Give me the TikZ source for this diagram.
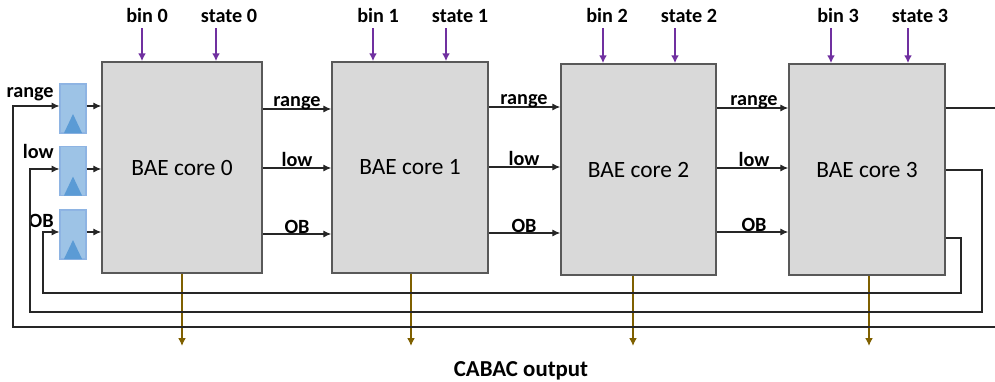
\documentclass[tikz,border=0pt]{standalone}
\usepackage{fontspec}
\setmainfont{Carlito}
\usetikzlibrary{arrows.meta}
\definecolor{corefill}{HTML}{D9D9D9}
\definecolor{coreline}{HTML}{595959}
\definecolor{regfill}{HTML}{9DC3E6}
\definecolor{regline}{HTML}{8EB4E3}
\definecolor{regtri}{HTML}{5B9BD5}
\definecolor{ctlcol}{HTML}{7030A0}
\definecolor{outcol}{HTML}{7F6000}
\begin{document}
\begin{tikzpicture}[x=0.02cm,y=-0.02cm,
        core/.style={draw=coreline,fill=corefill,line width=0.9pt,minimum height=211*0.02cm,inner sep=0pt,font=\fontsize{13.3}{16}\selectfont},
        reg/.style={draw=regline,fill=regfill,line width=0.6pt,minimum width=26*0.02cm,minimum height=49*0.02cm,inner sep=0pt},
        lbl/.style={font=\fontsize{11.5}{14}\selectfont\bfseries,inner sep=0pt},
        sig/.style={line width=0.6pt,draw=black!85,-{Latex[length=4.5pt,width=4pt]}},
        ctl/.style={line width=1.1pt,draw=ctlcol,-{Latex[length=4.5pt,width=4.5pt]}},
        outarr/.style={line width=1.1pt,draw=outcol,-{Latex[length=4.5pt,width=4.5pt]}}]
                \clip (0,0) rectangle (995,382);
                % BAE cores with bin/state inputs and outputs
                \foreach \i/\cx/\cy/\w/\bx/\blx/\sx/\slx/\ox in {0/182/167.5/160/142/147/216/229/182,
                        1/410/167.5/156/373/378/446/460/411,
                        2/638.5/169.5/155/603/607/675/689/633,
                        3/867/169.5/156/831/838/908/920/869}{
                    \node[core,minimum width=\w*0.02cm] (c\i) at (\cx,\cy) {BAE core \i};
                    \node[lbl,anchor=base] (b\i) at (\blx,22) {bin \i};
                    \node[lbl,anchor=base] (s\i) at (\slx,22) {state \i};
                    \coordinate (bt\i) at (\bx,28);
                    \coordinate (st\i) at (\sx,28);
                    \coordinate (o\i) at (\ox,346);
                    \draw[ctl] (bt\i) -- (bt\i |- c\i.north);
                    \draw[ctl] (st\i) -- (st\i |- c\i.north);
                    \draw[outarr] (c\i.south -| o\i) -- (o\i);
                }
                % core to core
                \foreach \i/\j/\ry/\ly/\oy/\lx in {0/1/109/168/234/297, 1/2/107/167/233/524, 2/3/108/168/232/754}{
                    \draw[sig] (c\i.east |- 0,\ry) -- (c\j.west |- 0,\ry);
                    \draw[sig] (c\i.east |- 0,\ly) -- (c\j.west |- 0,\ly);
                    \draw[sig] (c\i.east |- 0,\oy) -- (c\j.west |- 0,\oy);
                    \node[lbl,anchor=base] (lr\i) at (\lx,\ry-3) {range};
                    \node[lbl,anchor=base] (ll\i) at (\lx,\ly-2) {low};
                    \node[lbl,anchor=base] (lo\i) at (\lx,\oy-1) {OB};
                }
                % input registers
                \foreach \n/\y/\t/\ty/\iy in {rr/108.5/range/97/106, rl/171/low/158/169, ro/234.5/OB/227/232}{
                    \node[reg] (\n) at (73,\y) {};
                    \fill[regtri] (\n.south) ++(-9,-0.5) -- ++(18,0) -- ++(-9,-19) -- cycle;
                    \node[lbl,anchor=base east] (t\n) at (54,\ty) {\t};
                    \draw[sig] (\n.east |- 0,\iy) -- (c0.west |- 0,\iy);
                }
                % feedback from core 3
                \draw[sig] (c3.east |- 0,108) -- (1000,108) -- (1000,327) -- (13,327) -- (13,106) -- (rr.west |- 0,106);
                \draw[sig] (c3.east |- 0,170) -- (982,170) -- (982,312) -- (30,312) -- (30,169) -- (rl.west |- 0,169);
                \draw[sig] (c3.east |- 0,238) -- (961,238) -- (961,293) -- (43,293) -- (43,232) -- (ro.west |- 0,232);
                \node[lbl,font=\fontsize{13}{16}\selectfont\bfseries] (cabac) at (521,371) {CABAC output};
            \end{tikzpicture}
\end{document}
